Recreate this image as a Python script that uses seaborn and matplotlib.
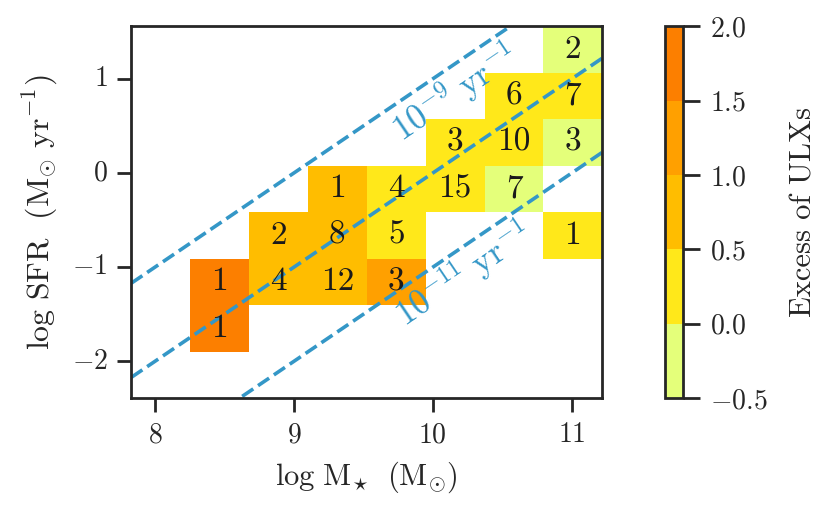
import numpy as np
import matplotlib
matplotlib.use("Agg")
import matplotlib.pyplot as plt
import seaborn as sns

# bin grid (log stellar mass vs log SFR)
mass_edges = np.linspace(7.83, 11.22, 9)
sfr_edges = np.linspace(-2.39, 1.56, 9)

# occupied cells: bin index in mass, bin index in SFR, number of galaxies, excess of ULXs
cell_mass_bin = [1, 1, 2, 3, 4, 2, 3, 4, 7, 3, 4, 5, 6, 5, 6, 7, 6, 7, 7]
cell_sfr_bin = [1, 2, 2, 2, 2, 3, 3, 3, 3, 4, 4, 4, 4, 5, 5, 5, 6, 6, 7]
cell_counts = [1, 1, 4, 12, 3, 2, 8, 5, 1, 1, 4, 15, 7, 3, 10, 3, 6, 7, 2]
cell_excess = [1.75, 1.7, 0.8, 0.9, 1.2, 0.85, 0.9, 0.3, 0.25, 0.75, 0.3, 0.35,
               -0.2, 0.2, 0.4, -0.15, 0.3, 0.35, -0.25]

# constant specific SFR lines (log yr^-1)
ssfr_levels = [-9, -10, -11]
cbar_ticks = [-0.5, 0.0, 0.5, 1.0, 1.5, 2.0]

sns.set_theme(style="ticks")
plt.rcParams["font.family"] = "cmr10"
plt.rcParams["mathtext.fontset"] = "cm"
plt.rcParams["axes.formatter.use_mathtext"] = True
plt.rcParams["axes.unicode_minus"] = True

n_m = len(mass_edges) - 1
n_s = len(sfr_edges) - 1
excess_grid = np.full((n_s, n_m), np.nan)
count_grid = np.full((n_s, n_m), np.nan)
for i, j, c, e in zip(cell_mass_bin, cell_sfr_bin, cell_counts, cell_excess):
    excess_grid[j, i] = e
    count_grid[j, i] = c

dm = mass_edges[1] - mass_edges[0]
ds = sfr_edges[1] - sfr_edges[0]


def to_ix(m):
    return (np.asarray(m) - mass_edges[0]) / dm


def to_iy(s):
    return (np.asarray(s) - sfr_edges[0]) / ds


fig = plt.figure(figsize=(4.155, 2.565), dpi=200)
ax = fig.add_axes([0.158, 0.224, 0.5668, 0.7251])
cax = fig.add_axes([0.8002, 0.224, 0.0223, 0.7251])

cmap = plt.get_cmap("Wistia", 5)
sns.heatmap(excess_grid, ax=ax, cmap=cmap, vmin=-0.5, vmax=2.0,
            annot=count_grid, fmt=".0f",
            annot_kws={"fontsize": 12, "color": "#1a1a1a"},
            cbar_ax=cax, cbar_kws={"ticks": cbar_ticks})
ax.invert_yaxis()

for s in ax.spines.values():
    s.set_visible(True)
    s.set_linewidth(1.0)
    s.set_color("#262626")

# sSFR lines
line_color = "#3497c7"
mass_line = mass_edges[[0, -1]]
for lev in ssfr_levels:
    ax.plot(to_ix(mass_line), to_iy(mass_line + lev), ls="--", color=line_color,
            lw=1.3, clip_on=True)

angle = np.degrees(np.arctan(dm / ds))
ax.text(to_ix(10.16), to_iy(0.86), r"$10^{-9}\ \mathrm{yr}^{-1}$", color=line_color,
        fontsize=12.5, rotation=angle, transform_rotates_text=True,
        rotation_mode="anchor", ha="center", va="center")
ax.text(to_ix(10.22), to_iy(-1.07), r"$10^{-11}\ \mathrm{yr}^{-1}$", color=line_color,
        fontsize=12.5, rotation=angle, transform_rotates_text=True,
        rotation_mode="anchor", ha="center", va="center")

ax.set_xlim(0, n_m)
ax.set_ylim(0, n_s)
xt = [8, 9, 10, 11]
yt = [-2, -1, 0, 1]
ax.set_xticks(to_ix(xt), labels=[rf"${v}$" for v in xt], rotation=0)
ax.set_yticks(to_iy(yt), labels=[rf"${v}$" for v in yt], rotation=0)
ax.tick_params(axis="both", which="major", length=5, width=1.0, color="#262626",
               labelsize=10, left=True, bottom=True)
ax.set_xlabel(r"$\log\,\mathrm{M}_{\star}\ \ (\mathrm{M}_{\odot})$", fontsize=11)
ax.set_ylabel(r"$\log\,\mathrm{SFR}\ \ (\mathrm{M}_{\odot}\ \mathrm{yr}^{-1})$", fontsize=11.5)

cbar = ax.collections[0].colorbar
cbar.outline.set_visible(True)
cbar.outline.set_linewidth(1.0)
cbar.outline.set_edgecolor("#262626")
cbar.ax.tick_params(length=6, width=1.0, color="#262626", labelsize=10)
cbar.set_label("Excess of ULXs", fontsize=11, labelpad=8)

fig.savefig("out.png", dpi=200)
